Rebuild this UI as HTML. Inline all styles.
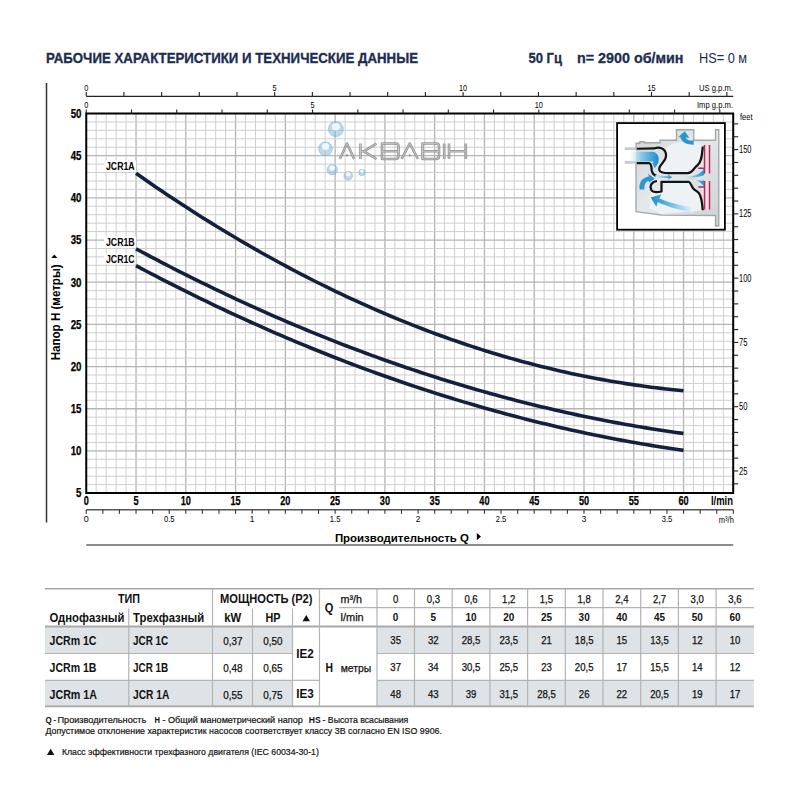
<!DOCTYPE html>
<html><head><meta charset="utf-8"><style>
html,body{margin:0;padding:0;background:#fff;}
body{width:800px;height:800px;overflow:hidden;position:relative;font-family:"Liberation Sans",sans-serif;}
svg text{font-family:"Liberation Sans",sans-serif;}
</style></head><body>
<svg width="800" height="800" viewBox="0 0 800 800" style="position:absolute;left:0;top:0">
<text x="46.00" y="62.60" font-size="15.3" font-weight="bold" fill="#1c2d50" text-anchor="start" textLength="372" lengthAdjust="spacingAndGlyphs" stroke="#1c2d50" stroke-width="0.35">РАБОЧИЕ ХАРАКТЕРИСТИКИ И ТЕХНИЧЕСКИЕ ДАННЫЕ</text>
<text x="528.50" y="62.60" font-size="15" font-weight="bold" fill="#1c2d50" text-anchor="start" textLength="33.5" lengthAdjust="spacingAndGlyphs" stroke="#1c2d50" stroke-width="0.3">50 Гц</text>
<text x="577.00" y="62.60" font-size="15" font-weight="bold" fill="#1c2d50" text-anchor="start" textLength="106.5" lengthAdjust="spacingAndGlyphs" stroke="#1c2d50" stroke-width="0.3">n= 2900 об/мин</text>
<text x="699.00" y="62.60" font-size="15" fill="#1c2d50" text-anchor="start" textLength="48" lengthAdjust="spacingAndGlyphs" >HS= 0 м</text>
<line x1="46.5" y1="83" x2="46.5" y2="522.5" stroke="#333" stroke-width="1.5"/>
<line x1="96.20" y1="113.5" x2="96.20" y2="493.0" stroke="#cfcfcf" stroke-width="1"/><line x1="106.16" y1="113.5" x2="106.16" y2="493.0" stroke="#cfcfcf" stroke-width="1"/><line x1="116.12" y1="113.5" x2="116.12" y2="493.0" stroke="#cfcfcf" stroke-width="1"/><line x1="126.07" y1="113.5" x2="126.07" y2="493.0" stroke="#cfcfcf" stroke-width="1"/><line x1="136.03" y1="113.5" x2="136.03" y2="493.0" stroke="#b4b4b4" stroke-width="1.3"/><line x1="145.98" y1="113.5" x2="145.98" y2="493.0" stroke="#cfcfcf" stroke-width="1"/><line x1="155.94" y1="113.5" x2="155.94" y2="493.0" stroke="#cfcfcf" stroke-width="1"/><line x1="165.89" y1="113.5" x2="165.89" y2="493.0" stroke="#cfcfcf" stroke-width="1"/><line x1="175.84" y1="113.5" x2="175.84" y2="493.0" stroke="#cfcfcf" stroke-width="1"/><line x1="185.80" y1="113.5" x2="185.80" y2="493.0" stroke="#b4b4b4" stroke-width="1.3"/><line x1="195.75" y1="113.5" x2="195.75" y2="493.0" stroke="#cfcfcf" stroke-width="1"/><line x1="205.71" y1="113.5" x2="205.71" y2="493.0" stroke="#cfcfcf" stroke-width="1"/><line x1="215.66" y1="113.5" x2="215.66" y2="493.0" stroke="#cfcfcf" stroke-width="1"/><line x1="225.62" y1="113.5" x2="225.62" y2="493.0" stroke="#cfcfcf" stroke-width="1"/><line x1="235.57" y1="113.5" x2="235.57" y2="493.0" stroke="#b4b4b4" stroke-width="1.3"/><line x1="245.53" y1="113.5" x2="245.53" y2="493.0" stroke="#cfcfcf" stroke-width="1"/><line x1="255.49" y1="113.5" x2="255.49" y2="493.0" stroke="#cfcfcf" stroke-width="1"/><line x1="265.44" y1="113.5" x2="265.44" y2="493.0" stroke="#cfcfcf" stroke-width="1"/><line x1="275.39" y1="113.5" x2="275.39" y2="493.0" stroke="#cfcfcf" stroke-width="1"/><line x1="285.35" y1="113.5" x2="285.35" y2="493.0" stroke="#b4b4b4" stroke-width="1.3"/><line x1="295.31" y1="113.5" x2="295.31" y2="493.0" stroke="#cfcfcf" stroke-width="1"/><line x1="305.26" y1="113.5" x2="305.26" y2="493.0" stroke="#cfcfcf" stroke-width="1"/><line x1="315.22" y1="113.5" x2="315.22" y2="493.0" stroke="#cfcfcf" stroke-width="1"/><line x1="325.17" y1="113.5" x2="325.17" y2="493.0" stroke="#cfcfcf" stroke-width="1"/><line x1="335.12" y1="113.5" x2="335.12" y2="493.0" stroke="#b4b4b4" stroke-width="1.3"/><line x1="345.08" y1="113.5" x2="345.08" y2="493.0" stroke="#cfcfcf" stroke-width="1"/><line x1="355.04" y1="113.5" x2="355.04" y2="493.0" stroke="#cfcfcf" stroke-width="1"/><line x1="364.99" y1="113.5" x2="364.99" y2="493.0" stroke="#cfcfcf" stroke-width="1"/><line x1="374.94" y1="113.5" x2="374.94" y2="493.0" stroke="#cfcfcf" stroke-width="1"/><line x1="384.90" y1="113.5" x2="384.90" y2="493.0" stroke="#b4b4b4" stroke-width="1.3"/><line x1="394.86" y1="113.5" x2="394.86" y2="493.0" stroke="#cfcfcf" stroke-width="1"/><line x1="404.81" y1="113.5" x2="404.81" y2="493.0" stroke="#cfcfcf" stroke-width="1"/><line x1="414.76" y1="113.5" x2="414.76" y2="493.0" stroke="#cfcfcf" stroke-width="1"/><line x1="424.72" y1="113.5" x2="424.72" y2="493.0" stroke="#cfcfcf" stroke-width="1"/><line x1="434.68" y1="113.5" x2="434.68" y2="493.0" stroke="#b4b4b4" stroke-width="1.3"/><line x1="444.63" y1="113.5" x2="444.63" y2="493.0" stroke="#cfcfcf" stroke-width="1"/><line x1="454.58" y1="113.5" x2="454.58" y2="493.0" stroke="#cfcfcf" stroke-width="1"/><line x1="464.54" y1="113.5" x2="464.54" y2="493.0" stroke="#cfcfcf" stroke-width="1"/><line x1="474.50" y1="113.5" x2="474.50" y2="493.0" stroke="#cfcfcf" stroke-width="1"/><line x1="484.45" y1="113.5" x2="484.45" y2="493.0" stroke="#b4b4b4" stroke-width="1.3"/><line x1="494.41" y1="113.5" x2="494.41" y2="493.0" stroke="#cfcfcf" stroke-width="1"/><line x1="504.36" y1="113.5" x2="504.36" y2="493.0" stroke="#cfcfcf" stroke-width="1"/><line x1="514.32" y1="113.5" x2="514.32" y2="493.0" stroke="#cfcfcf" stroke-width="1"/><line x1="524.27" y1="113.5" x2="524.27" y2="493.0" stroke="#cfcfcf" stroke-width="1"/><line x1="534.23" y1="113.5" x2="534.23" y2="493.0" stroke="#b4b4b4" stroke-width="1.3"/><line x1="544.18" y1="113.5" x2="544.18" y2="493.0" stroke="#cfcfcf" stroke-width="1"/><line x1="554.13" y1="113.5" x2="554.13" y2="493.0" stroke="#cfcfcf" stroke-width="1"/><line x1="564.09" y1="113.5" x2="564.09" y2="493.0" stroke="#cfcfcf" stroke-width="1"/><line x1="574.05" y1="113.5" x2="574.05" y2="493.0" stroke="#cfcfcf" stroke-width="1"/><line x1="584.00" y1="113.5" x2="584.00" y2="493.0" stroke="#b4b4b4" stroke-width="1.3"/><line x1="593.95" y1="113.5" x2="593.95" y2="493.0" stroke="#cfcfcf" stroke-width="1"/><line x1="603.91" y1="113.5" x2="603.91" y2="493.0" stroke="#cfcfcf" stroke-width="1"/><line x1="613.87" y1="113.5" x2="613.87" y2="493.0" stroke="#cfcfcf" stroke-width="1"/><line x1="623.82" y1="113.5" x2="623.82" y2="493.0" stroke="#cfcfcf" stroke-width="1"/><line x1="633.77" y1="113.5" x2="633.77" y2="493.0" stroke="#b4b4b4" stroke-width="1.3"/><line x1="643.73" y1="113.5" x2="643.73" y2="493.0" stroke="#cfcfcf" stroke-width="1"/><line x1="653.69" y1="113.5" x2="653.69" y2="493.0" stroke="#cfcfcf" stroke-width="1"/><line x1="663.64" y1="113.5" x2="663.64" y2="493.0" stroke="#cfcfcf" stroke-width="1"/><line x1="673.60" y1="113.5" x2="673.60" y2="493.0" stroke="#cfcfcf" stroke-width="1"/><line x1="683.55" y1="113.5" x2="683.55" y2="493.0" stroke="#b4b4b4" stroke-width="1.3"/><line x1="693.50" y1="113.5" x2="693.50" y2="493.0" stroke="#cfcfcf" stroke-width="1"/><line x1="703.46" y1="113.5" x2="703.46" y2="493.0" stroke="#cfcfcf" stroke-width="1"/><line x1="713.41" y1="113.5" x2="713.41" y2="493.0" stroke="#cfcfcf" stroke-width="1"/><line x1="723.37" y1="113.5" x2="723.37" y2="493.0" stroke="#cfcfcf" stroke-width="1"/><line x1="86.25" y1="484.64" x2="733.2" y2="484.64" stroke="#cfcfcf" stroke-width="1"/><line x1="86.25" y1="476.21" x2="733.2" y2="476.21" stroke="#cfcfcf" stroke-width="1"/><line x1="86.25" y1="467.77" x2="733.2" y2="467.77" stroke="#cfcfcf" stroke-width="1"/><line x1="86.25" y1="459.34" x2="733.2" y2="459.34" stroke="#cfcfcf" stroke-width="1"/><line x1="86.25" y1="450.90" x2="733.2" y2="450.90" stroke="#b4b4b4" stroke-width="1.3"/><line x1="86.25" y1="442.47" x2="733.2" y2="442.47" stroke="#cfcfcf" stroke-width="1"/><line x1="86.25" y1="434.03" x2="733.2" y2="434.03" stroke="#cfcfcf" stroke-width="1"/><line x1="86.25" y1="425.60" x2="733.2" y2="425.60" stroke="#cfcfcf" stroke-width="1"/><line x1="86.25" y1="417.16" x2="733.2" y2="417.16" stroke="#cfcfcf" stroke-width="1"/><line x1="86.25" y1="408.73" x2="733.2" y2="408.73" stroke="#b4b4b4" stroke-width="1.3"/><line x1="86.25" y1="400.29" x2="733.2" y2="400.29" stroke="#cfcfcf" stroke-width="1"/><line x1="86.25" y1="391.86" x2="733.2" y2="391.86" stroke="#cfcfcf" stroke-width="1"/><line x1="86.25" y1="383.42" x2="733.2" y2="383.42" stroke="#cfcfcf" stroke-width="1"/><line x1="86.25" y1="374.99" x2="733.2" y2="374.99" stroke="#cfcfcf" stroke-width="1"/><line x1="86.25" y1="366.55" x2="733.2" y2="366.55" stroke="#b4b4b4" stroke-width="1.3"/><line x1="86.25" y1="358.12" x2="733.2" y2="358.12" stroke="#cfcfcf" stroke-width="1"/><line x1="86.25" y1="349.68" x2="733.2" y2="349.68" stroke="#cfcfcf" stroke-width="1"/><line x1="86.25" y1="341.25" x2="733.2" y2="341.25" stroke="#cfcfcf" stroke-width="1"/><line x1="86.25" y1="332.81" x2="733.2" y2="332.81" stroke="#cfcfcf" stroke-width="1"/><line x1="86.25" y1="324.38" x2="733.2" y2="324.38" stroke="#b4b4b4" stroke-width="1.3"/><line x1="86.25" y1="315.94" x2="733.2" y2="315.94" stroke="#cfcfcf" stroke-width="1"/><line x1="86.25" y1="307.50" x2="733.2" y2="307.50" stroke="#cfcfcf" stroke-width="1"/><line x1="86.25" y1="299.07" x2="733.2" y2="299.07" stroke="#cfcfcf" stroke-width="1"/><line x1="86.25" y1="290.63" x2="733.2" y2="290.63" stroke="#cfcfcf" stroke-width="1"/><line x1="86.25" y1="282.20" x2="733.2" y2="282.20" stroke="#b4b4b4" stroke-width="1.3"/><line x1="86.25" y1="273.76" x2="733.2" y2="273.76" stroke="#cfcfcf" stroke-width="1"/><line x1="86.25" y1="265.33" x2="733.2" y2="265.33" stroke="#cfcfcf" stroke-width="1"/><line x1="86.25" y1="256.89" x2="733.2" y2="256.89" stroke="#cfcfcf" stroke-width="1"/><line x1="86.25" y1="248.46" x2="733.2" y2="248.46" stroke="#cfcfcf" stroke-width="1"/><line x1="86.25" y1="240.03" x2="733.2" y2="240.03" stroke="#b4b4b4" stroke-width="1.3"/><line x1="86.25" y1="231.59" x2="733.2" y2="231.59" stroke="#cfcfcf" stroke-width="1"/><line x1="86.25" y1="223.16" x2="733.2" y2="223.16" stroke="#cfcfcf" stroke-width="1"/><line x1="86.25" y1="214.72" x2="733.2" y2="214.72" stroke="#cfcfcf" stroke-width="1"/><line x1="86.25" y1="206.29" x2="733.2" y2="206.29" stroke="#cfcfcf" stroke-width="1"/><line x1="86.25" y1="197.85" x2="733.2" y2="197.85" stroke="#b4b4b4" stroke-width="1.3"/><line x1="86.25" y1="189.42" x2="733.2" y2="189.42" stroke="#cfcfcf" stroke-width="1"/><line x1="86.25" y1="180.98" x2="733.2" y2="180.98" stroke="#cfcfcf" stroke-width="1"/><line x1="86.25" y1="172.55" x2="733.2" y2="172.55" stroke="#cfcfcf" stroke-width="1"/><line x1="86.25" y1="164.11" x2="733.2" y2="164.11" stroke="#cfcfcf" stroke-width="1"/><line x1="86.25" y1="155.68" x2="733.2" y2="155.68" stroke="#b4b4b4" stroke-width="1.3"/><line x1="86.25" y1="147.24" x2="733.2" y2="147.24" stroke="#cfcfcf" stroke-width="1"/><line x1="86.25" y1="138.81" x2="733.2" y2="138.81" stroke="#cfcfcf" stroke-width="1"/><line x1="86.25" y1="130.37" x2="733.2" y2="130.37" stroke="#cfcfcf" stroke-width="1"/><line x1="86.25" y1="121.94" x2="733.2" y2="121.94" stroke="#cfcfcf" stroke-width="1"/>
<rect x="86.25" y="113.5" width="646.95" height="379.5" fill="none" stroke="#000" stroke-width="2"/>
<text x="81.50" y="497.38" font-size="12" font-weight="bold" fill="#000" text-anchor="end" textLength="5.4" lengthAdjust="spacingAndGlyphs" stroke="#000" stroke-width="0.25">5</text>
<text x="81.50" y="455.20" font-size="12" font-weight="bold" fill="#000" text-anchor="end" textLength="10.8" lengthAdjust="spacingAndGlyphs" stroke="#000" stroke-width="0.25">10</text>
<text x="81.50" y="413.03" font-size="12" font-weight="bold" fill="#000" text-anchor="end" textLength="10.8" lengthAdjust="spacingAndGlyphs" stroke="#000" stroke-width="0.25">15</text>
<text x="81.50" y="370.85" font-size="12" font-weight="bold" fill="#000" text-anchor="end" textLength="10.8" lengthAdjust="spacingAndGlyphs" stroke="#000" stroke-width="0.25">20</text>
<text x="81.50" y="328.68" font-size="12" font-weight="bold" fill="#000" text-anchor="end" textLength="10.8" lengthAdjust="spacingAndGlyphs" stroke="#000" stroke-width="0.25">25</text>
<text x="81.50" y="286.50" font-size="12" font-weight="bold" fill="#000" text-anchor="end" textLength="10.8" lengthAdjust="spacingAndGlyphs" stroke="#000" stroke-width="0.25">30</text>
<text x="81.50" y="244.33" font-size="12" font-weight="bold" fill="#000" text-anchor="end" textLength="10.8" lengthAdjust="spacingAndGlyphs" stroke="#000" stroke-width="0.25">35</text>
<text x="81.50" y="202.15" font-size="12" font-weight="bold" fill="#000" text-anchor="end" textLength="10.8" lengthAdjust="spacingAndGlyphs" stroke="#000" stroke-width="0.25">40</text>
<text x="81.50" y="159.98" font-size="12" font-weight="bold" fill="#000" text-anchor="end" textLength="10.8" lengthAdjust="spacingAndGlyphs" stroke="#000" stroke-width="0.25">45</text>
<text x="81.50" y="117.80" font-size="12" font-weight="bold" fill="#000" text-anchor="end" textLength="10.8" lengthAdjust="spacingAndGlyphs" stroke="#000" stroke-width="0.25">50</text>
<line x1="86.25" y1="96.3" x2="733.2" y2="96.3" stroke="#222" stroke-width="1.3"/>
<text x="86.25" y="90.70" font-size="9.7" fill="#000" text-anchor="middle" textLength="4.1" lengthAdjust="spacingAndGlyphs" >0</text>
<text x="274.67" y="90.70" font-size="9.7" fill="#000" text-anchor="middle" textLength="4.1" lengthAdjust="spacingAndGlyphs" >5</text>
<text x="463.09" y="90.70" font-size="9.7" fill="#000" text-anchor="middle" textLength="8.2" lengthAdjust="spacingAndGlyphs" >10</text>
<text x="651.51" y="90.70" font-size="9.7" fill="#000" text-anchor="middle" textLength="8.2" lengthAdjust="spacingAndGlyphs" >15</text>
<line x1="86.25" y1="92" x2="86.25" y2="96.3" stroke="#222" stroke-width="1.1"/><line x1="123.93" y1="92" x2="123.93" y2="96.3" stroke="#222" stroke-width="1.1"/><line x1="161.62" y1="92" x2="161.62" y2="96.3" stroke="#222" stroke-width="1.1"/><line x1="199.30" y1="92" x2="199.30" y2="96.3" stroke="#222" stroke-width="1.1"/><line x1="236.99" y1="92" x2="236.99" y2="96.3" stroke="#222" stroke-width="1.1"/><line x1="274.67" y1="92" x2="274.67" y2="96.3" stroke="#222" stroke-width="1.1"/><line x1="312.35" y1="92" x2="312.35" y2="96.3" stroke="#222" stroke-width="1.1"/><line x1="350.04" y1="92" x2="350.04" y2="96.3" stroke="#222" stroke-width="1.1"/><line x1="387.72" y1="92" x2="387.72" y2="96.3" stroke="#222" stroke-width="1.1"/><line x1="425.40" y1="92" x2="425.40" y2="96.3" stroke="#222" stroke-width="1.1"/><line x1="463.09" y1="92" x2="463.09" y2="96.3" stroke="#222" stroke-width="1.1"/><line x1="500.77" y1="92" x2="500.77" y2="96.3" stroke="#222" stroke-width="1.1"/><line x1="538.46" y1="92" x2="538.46" y2="96.3" stroke="#222" stroke-width="1.1"/><line x1="576.14" y1="92" x2="576.14" y2="96.3" stroke="#222" stroke-width="1.1"/><line x1="613.82" y1="92" x2="613.82" y2="96.3" stroke="#222" stroke-width="1.1"/><line x1="651.51" y1="92" x2="651.51" y2="96.3" stroke="#222" stroke-width="1.1"/><line x1="689.19" y1="92" x2="689.19" y2="96.3" stroke="#222" stroke-width="1.1"/><line x1="726.87" y1="92" x2="726.87" y2="96.3" stroke="#222" stroke-width="1.1"/>
<text x="733.00" y="90.50" font-size="8.5" fill="#000" text-anchor="end" textLength="34" lengthAdjust="spacingAndGlyphs" >US g.p.m.</text>
<text x="86.25" y="107.60" font-size="9.7" fill="#000" text-anchor="middle" textLength="4.1" lengthAdjust="spacingAndGlyphs" >0</text>
<text x="312.53" y="107.60" font-size="9.7" fill="#000" text-anchor="middle" textLength="4.1" lengthAdjust="spacingAndGlyphs" >5</text>
<text x="538.81" y="107.60" font-size="9.7" fill="#000" text-anchor="middle" textLength="8.2" lengthAdjust="spacingAndGlyphs" >10</text>
<line x1="86.25" y1="109.5" x2="86.25" y2="113.5" stroke="#222" stroke-width="1.1"/><line x1="131.51" y1="109.5" x2="131.51" y2="113.5" stroke="#222" stroke-width="1.1"/><line x1="176.76" y1="109.5" x2="176.76" y2="113.5" stroke="#222" stroke-width="1.1"/><line x1="222.02" y1="109.5" x2="222.02" y2="113.5" stroke="#222" stroke-width="1.1"/><line x1="267.28" y1="109.5" x2="267.28" y2="113.5" stroke="#222" stroke-width="1.1"/><line x1="312.53" y1="109.5" x2="312.53" y2="113.5" stroke="#222" stroke-width="1.1"/><line x1="357.79" y1="109.5" x2="357.79" y2="113.5" stroke="#222" stroke-width="1.1"/><line x1="403.04" y1="109.5" x2="403.04" y2="113.5" stroke="#222" stroke-width="1.1"/><line x1="448.30" y1="109.5" x2="448.30" y2="113.5" stroke="#222" stroke-width="1.1"/><line x1="493.56" y1="109.5" x2="493.56" y2="113.5" stroke="#222" stroke-width="1.1"/><line x1="538.81" y1="109.5" x2="538.81" y2="113.5" stroke="#222" stroke-width="1.1"/><line x1="584.07" y1="109.5" x2="584.07" y2="113.5" stroke="#222" stroke-width="1.1"/><line x1="629.33" y1="109.5" x2="629.33" y2="113.5" stroke="#222" stroke-width="1.1"/><line x1="674.58" y1="109.5" x2="674.58" y2="113.5" stroke="#222" stroke-width="1.1"/><line x1="719.84" y1="109.5" x2="719.84" y2="113.5" stroke="#222" stroke-width="1.1"/>
<text x="733.00" y="107.80" font-size="8.5" fill="#000" text-anchor="end" textLength="36" lengthAdjust="spacingAndGlyphs" >Imp g.p.m.</text>
<text x="739.00" y="474.58" font-size="10" fill="#000" text-anchor="start" textLength="8.4" lengthAdjust="spacingAndGlyphs" >25</text>
<text x="739.00" y="410.30" font-size="10" fill="#000" text-anchor="start" textLength="8.4" lengthAdjust="spacingAndGlyphs" >50</text>
<text x="739.00" y="346.03" font-size="10" fill="#000" text-anchor="start" textLength="8.4" lengthAdjust="spacingAndGlyphs" >75</text>
<text x="739.00" y="281.75" font-size="10" fill="#000" text-anchor="start" textLength="12.5" lengthAdjust="spacingAndGlyphs" >100</text>
<text x="739.00" y="217.48" font-size="10" fill="#000" text-anchor="start" textLength="12.5" lengthAdjust="spacingAndGlyphs" >125</text>
<text x="739.00" y="153.20" font-size="10" fill="#000" text-anchor="start" textLength="12.5" lengthAdjust="spacingAndGlyphs" >150</text>
<line x1="733.2" y1="483.83" x2="738.2" y2="483.83" stroke="#222" stroke-width="1.1"/><line x1="733.2" y1="470.98" x2="738.2" y2="470.98" stroke="#222" stroke-width="1.1"/><line x1="733.2" y1="458.12" x2="738.2" y2="458.12" stroke="#222" stroke-width="1.1"/><line x1="733.2" y1="445.27" x2="738.2" y2="445.27" stroke="#222" stroke-width="1.1"/><line x1="733.2" y1="432.41" x2="738.2" y2="432.41" stroke="#222" stroke-width="1.1"/><line x1="733.2" y1="419.56" x2="738.2" y2="419.56" stroke="#222" stroke-width="1.1"/><line x1="733.2" y1="406.70" x2="738.2" y2="406.70" stroke="#222" stroke-width="1.1"/><line x1="733.2" y1="393.85" x2="738.2" y2="393.85" stroke="#222" stroke-width="1.1"/><line x1="733.2" y1="380.99" x2="738.2" y2="380.99" stroke="#222" stroke-width="1.1"/><line x1="733.2" y1="368.14" x2="738.2" y2="368.14" stroke="#222" stroke-width="1.1"/><line x1="733.2" y1="355.28" x2="738.2" y2="355.28" stroke="#222" stroke-width="1.1"/><line x1="733.2" y1="342.43" x2="738.2" y2="342.43" stroke="#222" stroke-width="1.1"/><line x1="733.2" y1="329.57" x2="738.2" y2="329.57" stroke="#222" stroke-width="1.1"/><line x1="733.2" y1="316.72" x2="738.2" y2="316.72" stroke="#222" stroke-width="1.1"/><line x1="733.2" y1="303.86" x2="738.2" y2="303.86" stroke="#222" stroke-width="1.1"/><line x1="733.2" y1="291.01" x2="738.2" y2="291.01" stroke="#222" stroke-width="1.1"/><line x1="733.2" y1="278.15" x2="738.2" y2="278.15" stroke="#222" stroke-width="1.1"/><line x1="733.2" y1="265.30" x2="738.2" y2="265.30" stroke="#222" stroke-width="1.1"/><line x1="733.2" y1="252.44" x2="738.2" y2="252.44" stroke="#222" stroke-width="1.1"/><line x1="733.2" y1="239.59" x2="738.2" y2="239.59" stroke="#222" stroke-width="1.1"/><line x1="733.2" y1="226.73" x2="738.2" y2="226.73" stroke="#222" stroke-width="1.1"/><line x1="733.2" y1="213.88" x2="738.2" y2="213.88" stroke="#222" stroke-width="1.1"/><line x1="733.2" y1="201.02" x2="738.2" y2="201.02" stroke="#222" stroke-width="1.1"/><line x1="733.2" y1="188.17" x2="738.2" y2="188.17" stroke="#222" stroke-width="1.1"/><line x1="733.2" y1="175.31" x2="738.2" y2="175.31" stroke="#222" stroke-width="1.1"/><line x1="733.2" y1="162.46" x2="738.2" y2="162.46" stroke="#222" stroke-width="1.1"/><line x1="733.2" y1="149.60" x2="738.2" y2="149.60" stroke="#222" stroke-width="1.1"/><line x1="733.2" y1="136.75" x2="738.2" y2="136.75" stroke="#222" stroke-width="1.1"/><line x1="733.2" y1="123.89" x2="738.2" y2="123.89" stroke="#222" stroke-width="1.1"/>
<text x="740.00" y="120.00" font-size="8.5" fill="#000" text-anchor="start" textLength="12.5" lengthAdjust="spacingAndGlyphs" >feet</text>
<text x="86.25" y="505.40" font-size="12.5" font-weight="bold" fill="#000" text-anchor="middle" textLength="5.1" lengthAdjust="spacingAndGlyphs" stroke="#000" stroke-width="0.25">0</text>
<text x="136.03" y="505.40" font-size="12.5" font-weight="bold" fill="#000" text-anchor="middle" textLength="5.1" lengthAdjust="spacingAndGlyphs" stroke="#000" stroke-width="0.25">5</text>
<text x="185.80" y="505.40" font-size="12.5" font-weight="bold" fill="#000" text-anchor="middle" textLength="10.2" lengthAdjust="spacingAndGlyphs" stroke="#000" stroke-width="0.25">10</text>
<text x="235.57" y="505.40" font-size="12.5" font-weight="bold" fill="#000" text-anchor="middle" textLength="10.2" lengthAdjust="spacingAndGlyphs" stroke="#000" stroke-width="0.25">15</text>
<text x="285.35" y="505.40" font-size="12.5" font-weight="bold" fill="#000" text-anchor="middle" textLength="10.2" lengthAdjust="spacingAndGlyphs" stroke="#000" stroke-width="0.25">20</text>
<text x="335.12" y="505.40" font-size="12.5" font-weight="bold" fill="#000" text-anchor="middle" textLength="10.2" lengthAdjust="spacingAndGlyphs" stroke="#000" stroke-width="0.25">25</text>
<text x="384.90" y="505.40" font-size="12.5" font-weight="bold" fill="#000" text-anchor="middle" textLength="10.2" lengthAdjust="spacingAndGlyphs" stroke="#000" stroke-width="0.25">30</text>
<text x="434.68" y="505.40" font-size="12.5" font-weight="bold" fill="#000" text-anchor="middle" textLength="10.2" lengthAdjust="spacingAndGlyphs" stroke="#000" stroke-width="0.25">35</text>
<text x="484.45" y="505.40" font-size="12.5" font-weight="bold" fill="#000" text-anchor="middle" textLength="10.2" lengthAdjust="spacingAndGlyphs" stroke="#000" stroke-width="0.25">40</text>
<text x="534.23" y="505.40" font-size="12.5" font-weight="bold" fill="#000" text-anchor="middle" textLength="10.2" lengthAdjust="spacingAndGlyphs" stroke="#000" stroke-width="0.25">45</text>
<text x="584.00" y="505.40" font-size="12.5" font-weight="bold" fill="#000" text-anchor="middle" textLength="10.2" lengthAdjust="spacingAndGlyphs" stroke="#000" stroke-width="0.25">50</text>
<text x="633.77" y="505.40" font-size="12.5" font-weight="bold" fill="#000" text-anchor="middle" textLength="10.2" lengthAdjust="spacingAndGlyphs" stroke="#000" stroke-width="0.25">55</text>
<text x="683.55" y="505.40" font-size="12.5" font-weight="bold" fill="#000" text-anchor="middle" textLength="10.2" lengthAdjust="spacingAndGlyphs" stroke="#000" stroke-width="0.25">60</text>
<text x="733.00" y="505.40" font-size="12.5" font-weight="bold" fill="#000" text-anchor="end" textLength="22" lengthAdjust="spacingAndGlyphs" >l/min</text>
<line x1="86.25" y1="509.8" x2="733.2" y2="509.8" stroke="#555" stroke-width="1.5"/>
<text x="86.25" y="521.80" font-size="9" fill="#000" text-anchor="middle" textLength="5" lengthAdjust="spacingAndGlyphs" >0</text>
<text x="169.21" y="521.80" font-size="9" fill="#000" text-anchor="middle" textLength="10.6" lengthAdjust="spacingAndGlyphs" >0.5</text>
<text x="252.17" y="521.80" font-size="9" fill="#000" text-anchor="middle" textLength="4.6" lengthAdjust="spacingAndGlyphs" >1</text>
<text x="335.12" y="521.80" font-size="9" fill="#000" text-anchor="middle" textLength="10.6" lengthAdjust="spacingAndGlyphs" >1.5</text>
<text x="418.08" y="521.80" font-size="9" fill="#000" text-anchor="middle" textLength="4.6" lengthAdjust="spacingAndGlyphs" >2</text>
<text x="501.04" y="521.80" font-size="9" fill="#000" text-anchor="middle" textLength="10.6" lengthAdjust="spacingAndGlyphs" >2.5</text>
<text x="584.00" y="521.80" font-size="9" fill="#000" text-anchor="middle" textLength="4.6" lengthAdjust="spacingAndGlyphs" >3</text>
<text x="666.96" y="521.80" font-size="9" fill="#000" text-anchor="middle" textLength="10.6" lengthAdjust="spacingAndGlyphs" >3.5</text>
<line x1="86.25" y1="509.8" x2="86.25" y2="513.8" stroke="#333" stroke-width="1.1"/><line x1="102.84" y1="509.8" x2="102.84" y2="513.8" stroke="#333" stroke-width="1.1"/><line x1="119.43" y1="509.8" x2="119.43" y2="513.8" stroke="#333" stroke-width="1.1"/><line x1="136.03" y1="509.8" x2="136.03" y2="513.8" stroke="#333" stroke-width="1.1"/><line x1="152.62" y1="509.8" x2="152.62" y2="513.8" stroke="#333" stroke-width="1.1"/><line x1="169.21" y1="509.8" x2="169.21" y2="513.8" stroke="#333" stroke-width="1.1"/><line x1="185.80" y1="509.8" x2="185.80" y2="513.8" stroke="#333" stroke-width="1.1"/><line x1="202.39" y1="509.8" x2="202.39" y2="513.8" stroke="#333" stroke-width="1.1"/><line x1="218.98" y1="509.8" x2="218.98" y2="513.8" stroke="#333" stroke-width="1.1"/><line x1="235.57" y1="509.8" x2="235.57" y2="513.8" stroke="#333" stroke-width="1.1"/><line x1="252.17" y1="509.8" x2="252.17" y2="513.8" stroke="#333" stroke-width="1.1"/><line x1="268.76" y1="509.8" x2="268.76" y2="513.8" stroke="#333" stroke-width="1.1"/><line x1="285.35" y1="509.8" x2="285.35" y2="513.8" stroke="#333" stroke-width="1.1"/><line x1="301.94" y1="509.8" x2="301.94" y2="513.8" stroke="#333" stroke-width="1.1"/><line x1="318.53" y1="509.8" x2="318.53" y2="513.8" stroke="#333" stroke-width="1.1"/><line x1="335.12" y1="509.8" x2="335.12" y2="513.8" stroke="#333" stroke-width="1.1"/><line x1="351.72" y1="509.8" x2="351.72" y2="513.8" stroke="#333" stroke-width="1.1"/><line x1="368.31" y1="509.8" x2="368.31" y2="513.8" stroke="#333" stroke-width="1.1"/><line x1="384.90" y1="509.8" x2="384.90" y2="513.8" stroke="#333" stroke-width="1.1"/><line x1="401.49" y1="509.8" x2="401.49" y2="513.8" stroke="#333" stroke-width="1.1"/><line x1="418.08" y1="509.8" x2="418.08" y2="513.8" stroke="#333" stroke-width="1.1"/><line x1="434.68" y1="509.8" x2="434.68" y2="513.8" stroke="#333" stroke-width="1.1"/><line x1="451.27" y1="509.8" x2="451.27" y2="513.8" stroke="#333" stroke-width="1.1"/><line x1="467.86" y1="509.8" x2="467.86" y2="513.8" stroke="#333" stroke-width="1.1"/><line x1="484.45" y1="509.8" x2="484.45" y2="513.8" stroke="#333" stroke-width="1.1"/><line x1="501.04" y1="509.8" x2="501.04" y2="513.8" stroke="#333" stroke-width="1.1"/><line x1="517.63" y1="509.8" x2="517.63" y2="513.8" stroke="#333" stroke-width="1.1"/><line x1="534.23" y1="509.8" x2="534.23" y2="513.8" stroke="#333" stroke-width="1.1"/><line x1="550.82" y1="509.8" x2="550.82" y2="513.8" stroke="#333" stroke-width="1.1"/><line x1="567.41" y1="509.8" x2="567.41" y2="513.8" stroke="#333" stroke-width="1.1"/><line x1="584.00" y1="509.8" x2="584.00" y2="513.8" stroke="#333" stroke-width="1.1"/><line x1="600.59" y1="509.8" x2="600.59" y2="513.8" stroke="#333" stroke-width="1.1"/><line x1="617.18" y1="509.8" x2="617.18" y2="513.8" stroke="#333" stroke-width="1.1"/><line x1="633.77" y1="509.8" x2="633.77" y2="513.8" stroke="#333" stroke-width="1.1"/><line x1="650.37" y1="509.8" x2="650.37" y2="513.8" stroke="#333" stroke-width="1.1"/><line x1="666.96" y1="509.8" x2="666.96" y2="513.8" stroke="#333" stroke-width="1.1"/><line x1="683.55" y1="509.8" x2="683.55" y2="513.8" stroke="#333" stroke-width="1.1"/><line x1="700.14" y1="509.8" x2="700.14" y2="513.8" stroke="#333" stroke-width="1.1"/><line x1="716.73" y1="509.8" x2="716.73" y2="513.8" stroke="#333" stroke-width="1.1"/><line x1="733.33" y1="509.8" x2="733.33" y2="513.8" stroke="#333" stroke-width="1.1"/>
<text x="733.80" y="523.00" font-size="9.5" fill="#000" text-anchor="end" textLength="15" lengthAdjust="spacingAndGlyphs" >m³/h</text>
<line x1="86.25" y1="545" x2="733.2" y2="545" stroke="#666" stroke-width="1.6"/>
<text x="334.90" y="541.60" font-size="11.8" font-weight="bold" fill="#000" text-anchor="start" textLength="134" lengthAdjust="spacingAndGlyphs" >Производительность Q</text>
<path d="M476.8 533 L481 536.6 L476.8 540.2 Z" fill="#000"/>
<g transform="translate(60.3,360.3) rotate(-90)">
<text x="0.00" y="0.00" font-size="12.6" font-weight="bold" fill="#000" text-anchor="start" textLength="96" lengthAdjust="spacingAndGlyphs" >Напор H (метры)</text>
<path d="M102.3 -9 L105.8 -6 L102.3 -3 Z" fill="#000"/>
</g>
<path d="M136.03,173.31 L141.03,176.81 L146.03,180.28 L151.03,183.73 L156.03,187.15 L161.03,190.54 L166.03,193.90 L171.03,197.23 L176.03,200.54 L181.03,203.82 L186.03,207.07 L191.03,210.29 L196.03,213.48 L201.03,216.65 L206.03,219.79 L211.03,222.90 L216.03,225.98 L221.03,229.03 L226.03,232.06 L231.03,235.06 L236.03,238.03 L241.03,240.97 L246.03,243.89 L251.03,246.77 L256.02,249.63 L261.02,252.46 L266.02,255.27 L271.02,258.04 L276.02,260.79 L281.02,263.51 L286.02,266.20 L291.02,268.86 L296.02,271.50 L301.02,274.11 L306.02,276.68 L311.02,279.24 L316.02,281.76 L321.02,284.26 L326.02,286.72 L331.02,289.16 L336.02,291.57 L341.02,293.96 L346.02,296.31 L351.02,298.64 L356.02,300.94 L361.02,303.21 L366.02,305.46 L371.02,307.67 L376.02,309.86 L381.02,312.02 L386.02,314.15 L391.02,316.26 L396.02,318.33 L401.02,320.38 L406.02,322.40 L411.02,324.39 L416.02,326.36 L421.02,328.30 L426.02,330.20 L431.02,332.09 L436.02,333.94 L441.02,335.76 L446.02,337.56 L451.02,339.33 L456.02,341.07 L461.02,342.78 L466.02,344.47 L471.02,346.12 L476.02,347.75 L481.02,349.35 L486.02,350.93 L491.02,352.47 L496.02,353.99 L501.02,355.48 L506.02,356.94 L511.02,358.37 L516.02,359.78 L521.02,361.16 L526.02,362.51 L531.02,363.83 L536.02,365.12 L541.02,366.39 L546.02,367.62 L551.02,368.83 L556.02,370.02 L561.02,371.17 L566.02,372.30 L571.02,373.39 L576.02,374.46 L581.02,375.51 L586.02,376.52 L591.02,377.51 L596.02,378.46 L601.02,379.39 L606.02,380.30 L611.02,381.17 L616.02,382.02 L621.02,382.84 L626.02,383.63 L631.02,384.39 L636.02,385.12 L641.02,385.83 L646.02,386.51 L651.02,387.16 L656.02,387.78 L661.02,388.38 L666.02,388.95 L671.02,389.48 L676.02,390.00 L681.02,390.48 L683.55,390.71" fill="none" stroke="#13213f" stroke-width="3.6" stroke-linejoin="round"/>
<path d="M136.03,248.83 L141.03,251.51 L146.03,254.18 L151.03,256.83 L156.03,259.46 L161.03,262.07 L166.03,264.66 L171.03,267.23 L176.03,269.79 L181.03,272.33 L186.03,274.84 L191.03,277.35 L196.03,279.83 L201.03,282.29 L206.03,284.74 L211.03,287.16 L216.03,289.57 L221.03,291.96 L226.03,294.33 L231.03,296.69 L236.03,299.02 L241.03,301.34 L246.03,303.64 L251.03,305.92 L256.02,308.18 L261.02,310.42 L266.02,312.65 L271.02,314.85 L276.02,317.04 L281.02,319.21 L286.02,321.36 L291.02,323.49 L296.02,325.61 L301.02,327.70 L306.02,329.78 L311.02,331.84 L316.02,333.88 L321.02,335.90 L326.02,337.90 L331.02,339.89 L336.02,341.86 L341.02,343.81 L346.02,345.74 L351.02,347.65 L356.02,349.54 L361.02,351.42 L366.02,353.27 L371.02,355.11 L376.02,356.93 L381.02,358.73 L386.02,360.51 L391.02,362.28 L396.02,364.02 L401.02,365.75 L406.02,367.46 L411.02,369.15 L416.02,370.82 L421.02,372.48 L426.02,374.11 L431.02,375.73 L436.02,377.33 L441.02,378.91 L446.02,380.47 L451.02,382.02 L456.02,383.54 L461.02,385.05 L466.02,386.54 L471.02,388.01 L476.02,389.46 L481.02,390.89 L486.02,392.31 L491.02,393.70 L496.02,395.08 L501.02,396.44 L506.02,397.78 L511.02,399.10 L516.02,400.41 L521.02,401.70 L526.02,402.96 L531.02,404.21 L536.02,405.44 L541.02,406.66 L546.02,407.85 L551.02,409.02 L556.02,410.18 L561.02,411.32 L566.02,412.44 L571.02,413.54 L576.02,414.63 L581.02,415.69 L586.02,416.74 L591.02,417.77 L596.02,418.78 L601.02,419.77 L606.02,420.74 L611.02,421.70 L616.02,422.63 L621.02,423.55 L626.02,424.45 L631.02,425.33 L636.02,426.19 L641.02,427.04 L646.02,427.86 L651.02,428.67 L656.02,429.46 L661.02,430.23 L666.02,430.98 L671.02,431.72 L676.02,432.43 L681.02,433.13 L683.55,433.48" fill="none" stroke="#13213f" stroke-width="3.6" stroke-linejoin="round"/>
<path d="M136.03,265.71 L141.03,268.37 L146.03,271.00 L151.03,273.62 L156.03,276.22 L161.03,278.80 L166.03,281.37 L171.03,283.92 L176.03,286.44 L181.03,288.96 L186.03,291.45 L191.03,293.92 L196.03,296.38 L201.03,298.82 L206.03,301.24 L211.03,303.65 L216.03,306.03 L221.03,308.40 L226.03,310.75 L231.03,313.08 L236.03,315.40 L241.03,317.70 L246.03,319.98 L251.03,322.24 L256.02,324.48 L261.02,326.71 L266.02,328.91 L271.02,331.10 L276.02,333.28 L281.02,335.43 L286.02,337.57 L291.02,339.69 L296.02,341.79 L301.02,343.87 L306.02,345.94 L311.02,347.98 L316.02,350.01 L321.02,352.03 L326.02,354.02 L331.02,356.00 L336.02,357.95 L341.02,359.89 L346.02,361.82 L351.02,363.72 L356.02,365.61 L361.02,367.48 L366.02,369.33 L371.02,371.16 L376.02,372.98 L381.02,374.78 L386.02,376.56 L391.02,378.32 L396.02,380.06 L401.02,381.79 L406.02,383.50 L411.02,385.19 L416.02,386.86 L421.02,388.52 L426.02,390.16 L431.02,391.78 L436.02,393.38 L441.02,394.96 L446.02,396.53 L451.02,398.08 L456.02,399.61 L461.02,401.12 L466.02,402.61 L471.02,404.09 L476.02,405.55 L481.02,406.99 L486.02,408.41 L491.02,409.82 L496.02,411.21 L501.02,412.58 L506.02,413.93 L511.02,415.26 L516.02,416.58 L521.02,417.88 L526.02,419.16 L531.02,420.42 L536.02,421.67 L541.02,422.90 L546.02,424.10 L551.02,425.30 L556.02,426.47 L561.02,427.63 L566.02,428.76 L571.02,429.89 L576.02,430.99 L581.02,432.07 L586.02,433.14 L591.02,434.19 L596.02,435.22 L601.02,436.23 L606.02,437.23 L611.02,438.21 L616.02,439.17 L621.02,440.11 L626.02,441.03 L631.02,441.94 L636.02,442.83 L641.02,443.70 L646.02,444.55 L651.02,445.39 L656.02,446.20 L661.02,447.00 L666.02,447.79 L671.02,448.55 L676.02,449.29 L681.02,450.02 L683.55,450.38" fill="none" stroke="#13213f" stroke-width="3.6" stroke-linejoin="round"/>
<rect x="104" y="160.5" width="32" height="11" fill="#fff"/>
<rect x="104" y="236.5" width="32" height="11" fill="#fff"/>
<rect x="104" y="253.5" width="31.5" height="10.5" fill="#fff"/>
<text x="106.00" y="170.00" font-size="11.3" font-weight="bold" fill="#000" text-anchor="start" textLength="28.6" lengthAdjust="spacingAndGlyphs" >JCR1A</text>
<text x="106.00" y="246.30" font-size="11.3" font-weight="bold" fill="#000" text-anchor="start" textLength="28.6" lengthAdjust="spacingAndGlyphs" >JCR1B</text>
<text x="106.00" y="263.10" font-size="11.3" font-weight="bold" fill="#000" text-anchor="start" textLength="28.6" lengthAdjust="spacingAndGlyphs" >JCR1C</text>
<rect x="45" y="626.5" width="83.75" height="27.0" fill="#dde3e6"/><rect x="128.75" y="626.5" width="83.75" height="27.0" fill="#dde3e6"/><rect x="212.5" y="626.5" width="40.0" height="27.0" fill="#dde3e6"/><rect x="252.5" y="626.5" width="40.0" height="27.0" fill="#dde3e6"/><rect x="376.8" y="626.5" width="37.69999999999999" height="27.0" fill="#dde3e6"/><rect x="414.5" y="626.5" width="37.700000000000045" height="27.0" fill="#dde3e6"/><rect x="452.20000000000005" y="626.5" width="37.69999999999999" height="27.0" fill="#dde3e6"/><rect x="489.90000000000003" y="626.5" width="37.69999999999999" height="27.0" fill="#dde3e6"/><rect x="527.6" y="626.5" width="37.69999999999993" height="27.0" fill="#dde3e6"/><rect x="565.3" y="626.5" width="37.700000000000045" height="27.0" fill="#dde3e6"/><rect x="603.0" y="626.5" width="37.700000000000045" height="27.0" fill="#dde3e6"/><rect x="640.7" y="626.5" width="37.700000000000045" height="27.0" fill="#dde3e6"/><rect x="678.4000000000001" y="626.5" width="37.69999999999993" height="27.0" fill="#dde3e6"/><rect x="716.1" y="626.5" width="37.69999999999993" height="27.0" fill="#dde3e6"/><rect x="45" y="680.3" width="83.75" height="26.0" fill="#dde3e6"/><rect x="128.75" y="680.3" width="83.75" height="26.0" fill="#dde3e6"/><rect x="212.5" y="680.3" width="40.0" height="26.0" fill="#dde3e6"/><rect x="252.5" y="680.3" width="40.0" height="26.0" fill="#dde3e6"/><rect x="376.8" y="680.3" width="37.69999999999999" height="26.0" fill="#dde3e6"/><rect x="414.5" y="680.3" width="37.700000000000045" height="26.0" fill="#dde3e6"/><rect x="452.20000000000005" y="680.3" width="37.69999999999999" height="26.0" fill="#dde3e6"/><rect x="489.90000000000003" y="680.3" width="37.69999999999999" height="26.0" fill="#dde3e6"/><rect x="527.6" y="680.3" width="37.69999999999993" height="26.0" fill="#dde3e6"/><rect x="565.3" y="680.3" width="37.700000000000045" height="26.0" fill="#dde3e6"/><rect x="603.0" y="680.3" width="37.700000000000045" height="26.0" fill="#dde3e6"/><rect x="640.7" y="680.3" width="37.700000000000045" height="26.0" fill="#dde3e6"/><rect x="678.4000000000001" y="680.3" width="37.69999999999993" height="26.0" fill="#dde3e6"/><rect x="716.1" y="680.3" width="37.69999999999993" height="26.0" fill="#dde3e6"/><line x1="45" y1="588.75" x2="754" y2="588.75" stroke="#a8a8a8" stroke-width="1.6"/><line x1="339" y1="607.6" x2="754" y2="607.6" stroke="#b3b3b3" stroke-width="1.2"/><line x1="45" y1="626.5" x2="754" y2="626.5" stroke="#a8a8a8" stroke-width="1.8"/><line x1="45" y1="653.5" x2="292.5" y2="653.5" stroke="#b3b3b3" stroke-width="1.2"/><line x1="377" y1="653.5" x2="754" y2="653.5" stroke="#b3b3b3" stroke-width="1.2"/><line x1="45" y1="680.3" x2="292.5" y2="680.3" stroke="#b3b3b3" stroke-width="1.2"/><line x1="377" y1="680.3" x2="754" y2="680.3" stroke="#b3b3b3" stroke-width="1.2"/><line x1="292.5" y1="680.3" x2="319.5" y2="680.3" stroke="#b3b3b3" stroke-width="1.2"/><line x1="45" y1="706.3" x2="754" y2="706.3" stroke="#a8a8a8" stroke-width="1.8"/><line x1="212.5" y1="588.75" x2="212.5" y2="706.3" stroke="#b3b3b3" stroke-width="1.2"/><line x1="319.5" y1="588.75" x2="319.5" y2="706.3" stroke="#b3b3b3" stroke-width="1.2"/><line x1="377" y1="588.75" x2="377" y2="706.3" stroke="#b3b3b3" stroke-width="1.2"/><line x1="128.75" y1="608.6" x2="128.75" y2="706.3" stroke="#b3b3b3" stroke-width="1.2"/><line x1="252.5" y1="608.6" x2="252.5" y2="706.3" stroke="#b3b3b3" stroke-width="1.2"/><line x1="292.5" y1="608.6" x2="292.5" y2="706.3" stroke="#b3b3b3" stroke-width="1.2"/><line x1="414.5" y1="588.75" x2="414.5" y2="706.3" stroke="#b3b3b3" stroke-width="1.2"/><line x1="452.20000000000005" y1="588.75" x2="452.20000000000005" y2="706.3" stroke="#b3b3b3" stroke-width="1.2"/><line x1="489.90000000000003" y1="588.75" x2="489.90000000000003" y2="706.3" stroke="#b3b3b3" stroke-width="1.2"/><line x1="527.6" y1="588.75" x2="527.6" y2="706.3" stroke="#b3b3b3" stroke-width="1.2"/><line x1="565.3" y1="588.75" x2="565.3" y2="706.3" stroke="#b3b3b3" stroke-width="1.2"/><line x1="603.0" y1="588.75" x2="603.0" y2="706.3" stroke="#b3b3b3" stroke-width="1.2"/><line x1="640.7" y1="588.75" x2="640.7" y2="706.3" stroke="#b3b3b3" stroke-width="1.2"/><line x1="678.4000000000001" y1="588.75" x2="678.4000000000001" y2="706.3" stroke="#b3b3b3" stroke-width="1.2"/><line x1="716.1" y1="588.75" x2="716.1" y2="706.3" stroke="#b3b3b3" stroke-width="1.2"/>
<text x="118.00" y="603.00" font-size="12" font-weight="bold" fill="#111" text-anchor="start" textLength="22" lengthAdjust="spacingAndGlyphs" >ТИП</text>
<text x="220.00" y="603.00" font-size="12" font-weight="bold" fill="#111" text-anchor="start" textLength="92.5" lengthAdjust="spacingAndGlyphs" >МОЩНОСТЬ (P2)</text>
<text x="49.50" y="622.00" font-size="12" font-weight="bold" fill="#111" text-anchor="start" textLength="75" lengthAdjust="spacingAndGlyphs" >Однофазный</text>
<text x="133.00" y="622.00" font-size="12" font-weight="bold" fill="#111" text-anchor="start" textLength="71.2" lengthAdjust="spacingAndGlyphs" >Трехфазный</text>
<text x="224.25" y="622.00" font-size="12" font-weight="bold" fill="#111" text-anchor="start" textLength="17" lengthAdjust="spacingAndGlyphs" >kW</text>
<text x="265.50" y="622.00" font-size="12" font-weight="bold" fill="#111" text-anchor="start" textLength="15" lengthAdjust="spacingAndGlyphs" >HP</text>
<path d="M302.5 621.3 L306.25 615 L310 621.3 Z" fill="#111"/>
<text x="324.70" y="612.30" font-size="12.5" font-weight="bold" fill="#111" text-anchor="start" textLength="8.6" lengthAdjust="spacingAndGlyphs" >Q</text>
<text x="340.50" y="602.70" font-size="10.5" fill="#111" text-anchor="start" textLength="21.5" lengthAdjust="spacingAndGlyphs" stroke="#111" stroke-width="0.25">m³/h</text>
<text x="340.50" y="621.00" font-size="10.5" fill="#111" text-anchor="start" textLength="23.2" lengthAdjust="spacingAndGlyphs" stroke="#111" stroke-width="0.25">l/min</text>
<text x="395.65" y="603.00" font-size="10.3" fill="#111" text-anchor="middle" textLength="5.33" lengthAdjust="spacingAndGlyphs" stroke="#111" stroke-width="0.25">0</text>
<text x="395.65" y="621.30" font-size="10.3" font-weight="bold" fill="#111" text-anchor="middle" textLength="5.56" lengthAdjust="spacingAndGlyphs" >0</text>
<text x="395.65" y="644.10" font-size="10.3" fill="#111" text-anchor="middle" textLength="10.65" lengthAdjust="spacingAndGlyphs" stroke="#111" stroke-width="0.25">35</text>
<text x="395.65" y="671.00" font-size="10.3" fill="#111" text-anchor="middle" textLength="10.65" lengthAdjust="spacingAndGlyphs" stroke="#111" stroke-width="0.25">37</text>
<text x="395.65" y="697.80" font-size="10.3" fill="#111" text-anchor="middle" textLength="10.65" lengthAdjust="spacingAndGlyphs" stroke="#111" stroke-width="0.25">48</text>
<text x="433.35" y="603.00" font-size="10.3" fill="#111" text-anchor="middle" textLength="13.31" lengthAdjust="spacingAndGlyphs" stroke="#111" stroke-width="0.25">0,3</text>
<text x="433.35" y="621.30" font-size="10.3" font-weight="bold" fill="#111" text-anchor="middle" textLength="5.56" lengthAdjust="spacingAndGlyphs" >5</text>
<text x="433.35" y="644.10" font-size="10.3" fill="#111" text-anchor="middle" textLength="10.65" lengthAdjust="spacingAndGlyphs" stroke="#111" stroke-width="0.25">32</text>
<text x="433.35" y="671.00" font-size="10.3" fill="#111" text-anchor="middle" textLength="10.65" lengthAdjust="spacingAndGlyphs" stroke="#111" stroke-width="0.25">34</text>
<text x="433.35" y="697.80" font-size="10.3" fill="#111" text-anchor="middle" textLength="10.65" lengthAdjust="spacingAndGlyphs" stroke="#111" stroke-width="0.25">43</text>
<text x="471.05" y="603.00" font-size="10.3" fill="#111" text-anchor="middle" textLength="13.31" lengthAdjust="spacingAndGlyphs" stroke="#111" stroke-width="0.25">0,6</text>
<text x="471.05" y="621.30" font-size="10.3" font-weight="bold" fill="#111" text-anchor="middle" textLength="11.11" lengthAdjust="spacingAndGlyphs" >10</text>
<text x="471.05" y="644.10" font-size="10.3" fill="#111" text-anchor="middle" textLength="18.64" lengthAdjust="spacingAndGlyphs" stroke="#111" stroke-width="0.25">28,5</text>
<text x="471.05" y="671.00" font-size="10.3" fill="#111" text-anchor="middle" textLength="18.64" lengthAdjust="spacingAndGlyphs" stroke="#111" stroke-width="0.25">30,5</text>
<text x="471.05" y="697.80" font-size="10.3" fill="#111" text-anchor="middle" textLength="10.65" lengthAdjust="spacingAndGlyphs" stroke="#111" stroke-width="0.25">39</text>
<text x="508.75" y="603.00" font-size="10.3" fill="#111" text-anchor="middle" textLength="13.31" lengthAdjust="spacingAndGlyphs" stroke="#111" stroke-width="0.25">1,2</text>
<text x="508.75" y="621.30" font-size="10.3" font-weight="bold" fill="#111" text-anchor="middle" textLength="11.11" lengthAdjust="spacingAndGlyphs" >20</text>
<text x="508.75" y="644.10" font-size="10.3" fill="#111" text-anchor="middle" textLength="18.64" lengthAdjust="spacingAndGlyphs" stroke="#111" stroke-width="0.25">23,5</text>
<text x="508.75" y="671.00" font-size="10.3" fill="#111" text-anchor="middle" textLength="18.64" lengthAdjust="spacingAndGlyphs" stroke="#111" stroke-width="0.25">25,5</text>
<text x="508.75" y="697.80" font-size="10.3" fill="#111" text-anchor="middle" textLength="18.64" lengthAdjust="spacingAndGlyphs" stroke="#111" stroke-width="0.25">31,5</text>
<text x="546.45" y="603.00" font-size="10.3" fill="#111" text-anchor="middle" textLength="13.31" lengthAdjust="spacingAndGlyphs" stroke="#111" stroke-width="0.25">1,5</text>
<text x="546.45" y="621.30" font-size="10.3" font-weight="bold" fill="#111" text-anchor="middle" textLength="11.11" lengthAdjust="spacingAndGlyphs" >25</text>
<text x="546.45" y="644.10" font-size="10.3" fill="#111" text-anchor="middle" textLength="10.65" lengthAdjust="spacingAndGlyphs" stroke="#111" stroke-width="0.25">21</text>
<text x="546.45" y="671.00" font-size="10.3" fill="#111" text-anchor="middle" textLength="10.65" lengthAdjust="spacingAndGlyphs" stroke="#111" stroke-width="0.25">23</text>
<text x="546.45" y="697.80" font-size="10.3" fill="#111" text-anchor="middle" textLength="18.64" lengthAdjust="spacingAndGlyphs" stroke="#111" stroke-width="0.25">28,5</text>
<text x="584.15" y="603.00" font-size="10.3" fill="#111" text-anchor="middle" textLength="13.31" lengthAdjust="spacingAndGlyphs" stroke="#111" stroke-width="0.25">1,8</text>
<text x="584.15" y="621.30" font-size="10.3" font-weight="bold" fill="#111" text-anchor="middle" textLength="11.11" lengthAdjust="spacingAndGlyphs" >30</text>
<text x="584.15" y="644.10" font-size="10.3" fill="#111" text-anchor="middle" textLength="18.64" lengthAdjust="spacingAndGlyphs" stroke="#111" stroke-width="0.25">18,5</text>
<text x="584.15" y="671.00" font-size="10.3" fill="#111" text-anchor="middle" textLength="18.64" lengthAdjust="spacingAndGlyphs" stroke="#111" stroke-width="0.25">20,5</text>
<text x="584.15" y="697.80" font-size="10.3" fill="#111" text-anchor="middle" textLength="10.65" lengthAdjust="spacingAndGlyphs" stroke="#111" stroke-width="0.25">26</text>
<text x="621.85" y="603.00" font-size="10.3" fill="#111" text-anchor="middle" textLength="13.31" lengthAdjust="spacingAndGlyphs" stroke="#111" stroke-width="0.25">2,4</text>
<text x="621.85" y="621.30" font-size="10.3" font-weight="bold" fill="#111" text-anchor="middle" textLength="11.11" lengthAdjust="spacingAndGlyphs" >40</text>
<text x="621.85" y="644.10" font-size="10.3" fill="#111" text-anchor="middle" textLength="10.65" lengthAdjust="spacingAndGlyphs" stroke="#111" stroke-width="0.25">15</text>
<text x="621.85" y="671.00" font-size="10.3" fill="#111" text-anchor="middle" textLength="10.65" lengthAdjust="spacingAndGlyphs" stroke="#111" stroke-width="0.25">17</text>
<text x="621.85" y="697.80" font-size="10.3" fill="#111" text-anchor="middle" textLength="10.65" lengthAdjust="spacingAndGlyphs" stroke="#111" stroke-width="0.25">22</text>
<text x="659.55" y="603.00" font-size="10.3" fill="#111" text-anchor="middle" textLength="13.31" lengthAdjust="spacingAndGlyphs" stroke="#111" stroke-width="0.25">2,7</text>
<text x="659.55" y="621.30" font-size="10.3" font-weight="bold" fill="#111" text-anchor="middle" textLength="11.11" lengthAdjust="spacingAndGlyphs" >45</text>
<text x="659.55" y="644.10" font-size="10.3" fill="#111" text-anchor="middle" textLength="18.64" lengthAdjust="spacingAndGlyphs" stroke="#111" stroke-width="0.25">13,5</text>
<text x="659.55" y="671.00" font-size="10.3" fill="#111" text-anchor="middle" textLength="18.64" lengthAdjust="spacingAndGlyphs" stroke="#111" stroke-width="0.25">15,5</text>
<text x="659.55" y="697.80" font-size="10.3" fill="#111" text-anchor="middle" textLength="18.64" lengthAdjust="spacingAndGlyphs" stroke="#111" stroke-width="0.25">20,5</text>
<text x="697.25" y="603.00" font-size="10.3" fill="#111" text-anchor="middle" textLength="13.31" lengthAdjust="spacingAndGlyphs" stroke="#111" stroke-width="0.25">3,0</text>
<text x="697.25" y="621.30" font-size="10.3" font-weight="bold" fill="#111" text-anchor="middle" textLength="11.11" lengthAdjust="spacingAndGlyphs" >50</text>
<text x="697.25" y="644.10" font-size="10.3" fill="#111" text-anchor="middle" textLength="10.65" lengthAdjust="spacingAndGlyphs" stroke="#111" stroke-width="0.25">12</text>
<text x="697.25" y="671.00" font-size="10.3" fill="#111" text-anchor="middle" textLength="10.65" lengthAdjust="spacingAndGlyphs" stroke="#111" stroke-width="0.25">14</text>
<text x="697.25" y="697.80" font-size="10.3" fill="#111" text-anchor="middle" textLength="10.65" lengthAdjust="spacingAndGlyphs" stroke="#111" stroke-width="0.25">19</text>
<text x="734.95" y="603.00" font-size="10.3" fill="#111" text-anchor="middle" textLength="13.31" lengthAdjust="spacingAndGlyphs" stroke="#111" stroke-width="0.25">3,6</text>
<text x="734.95" y="621.30" font-size="10.3" font-weight="bold" fill="#111" text-anchor="middle" textLength="11.11" lengthAdjust="spacingAndGlyphs" >60</text>
<text x="734.95" y="644.10" font-size="10.3" fill="#111" text-anchor="middle" textLength="10.65" lengthAdjust="spacingAndGlyphs" stroke="#111" stroke-width="0.25">10</text>
<text x="734.95" y="671.00" font-size="10.3" fill="#111" text-anchor="middle" textLength="10.65" lengthAdjust="spacingAndGlyphs" stroke="#111" stroke-width="0.25">12</text>
<text x="734.95" y="697.80" font-size="10.3" fill="#111" text-anchor="middle" textLength="10.65" lengthAdjust="spacingAndGlyphs" stroke="#111" stroke-width="0.25">17</text>
<text x="49.50" y="644.90" font-size="12" font-weight="bold" fill="#111" text-anchor="start" textLength="47" lengthAdjust="spacingAndGlyphs" >JCRm 1C</text>
<text x="133.00" y="644.90" font-size="12" font-weight="bold" fill="#111" text-anchor="start" textLength="35.25" lengthAdjust="spacingAndGlyphs" >JCR 1C</text>
<text x="49.50" y="671.90" font-size="12" font-weight="bold" fill="#111" text-anchor="start" textLength="47" lengthAdjust="spacingAndGlyphs" >JCRm 1B</text>
<text x="133.00" y="671.90" font-size="12" font-weight="bold" fill="#111" text-anchor="start" textLength="35.25" lengthAdjust="spacingAndGlyphs" >JCR 1B</text>
<text x="49.50" y="698.70" font-size="12" font-weight="bold" fill="#111" text-anchor="start" textLength="47.5" lengthAdjust="spacingAndGlyphs" >JCRm 1A</text>
<text x="133.00" y="698.70" font-size="12" font-weight="bold" fill="#111" text-anchor="start" textLength="36.25" lengthAdjust="spacingAndGlyphs" >JCR 1A</text>
<text x="232.80" y="644.90" font-size="11" fill="#111" text-anchor="middle" textLength="19.27" lengthAdjust="spacingAndGlyphs" stroke="#111" stroke-width="0.25">0,37</text>
<text x="272.80" y="644.90" font-size="11" fill="#111" text-anchor="middle" textLength="19.27" lengthAdjust="spacingAndGlyphs" stroke="#111" stroke-width="0.25">0,50</text>
<text x="232.80" y="671.90" font-size="11" fill="#111" text-anchor="middle" textLength="19.27" lengthAdjust="spacingAndGlyphs" stroke="#111" stroke-width="0.25">0,48</text>
<text x="272.80" y="671.90" font-size="11" fill="#111" text-anchor="middle" textLength="19.27" lengthAdjust="spacingAndGlyphs" stroke="#111" stroke-width="0.25">0,65</text>
<text x="232.80" y="698.70" font-size="11" fill="#111" text-anchor="middle" textLength="19.27" lengthAdjust="spacingAndGlyphs" stroke="#111" stroke-width="0.25">0,55</text>
<text x="272.80" y="698.70" font-size="11" fill="#111" text-anchor="middle" textLength="19.27" lengthAdjust="spacingAndGlyphs" stroke="#111" stroke-width="0.25">0,75</text>
<text x="296.25" y="658.20" font-size="12" font-weight="bold" fill="#111" text-anchor="start" textLength="17.5" lengthAdjust="spacingAndGlyphs" >IE2</text>
<text x="296.25" y="698.40" font-size="12" font-weight="bold" fill="#111" text-anchor="start" textLength="17.5" lengthAdjust="spacingAndGlyphs" >IE3</text>
<text x="325.50" y="672.00" font-size="12" font-weight="bold" fill="#111" text-anchor="start" textLength="7.5" lengthAdjust="spacingAndGlyphs" >H</text>
<text x="340.75" y="672.00" font-size="11" fill="#111" text-anchor="start" textLength="30.5" lengthAdjust="spacingAndGlyphs" stroke="#111" stroke-width="0.25">метры</text>
<text x="45.50" y="722.50" font-size="9.2" font-weight="bold" fill="#111" text-anchor="start" textLength="6.25" lengthAdjust="spacingAndGlyphs" >Q</text>
<text x="53.50" y="722.50" font-size="9.2" fill="#111" text-anchor="start" textLength="2.6" lengthAdjust="spacingAndGlyphs" stroke="#111" stroke-width="0.2">-</text>
<text x="57.50" y="722.50" font-size="9.2" fill="#111" text-anchor="start" textLength="88.75" lengthAdjust="spacingAndGlyphs" stroke="#111" stroke-width="0.2">Производительность</text>
<text x="154.50" y="722.50" font-size="9.2" font-weight="bold" fill="#111" text-anchor="start" textLength="5.5" lengthAdjust="spacingAndGlyphs" >H</text>
<text x="162.50" y="722.50" font-size="9.2" fill="#111" text-anchor="start" textLength="140.2" lengthAdjust="spacingAndGlyphs" stroke="#111" stroke-width="0.2">- Общий манометрический напор</text>
<text x="308.75" y="722.50" font-size="9.2" font-weight="bold" fill="#111" text-anchor="start" textLength="11.85" lengthAdjust="spacingAndGlyphs" >HS</text>
<text x="322.50" y="722.50" font-size="9.2" fill="#111" text-anchor="start" textLength="85.8" lengthAdjust="spacingAndGlyphs" stroke="#111" stroke-width="0.2">- Высота всасывания</text>
<text x="45.50" y="733.80" font-size="9.2" fill="#111" text-anchor="start" textLength="396.5" lengthAdjust="spacingAndGlyphs" stroke="#111" stroke-width="0.2">Допустимое отклонение характеристик насосов соответствует классу 3B согласно EN ISO 9906.</text>
<path d="M46.9 755 L50.65 748.75 L54.4 755 Z" fill="#111"/>
<text x="61.90" y="755.00" font-size="9.2" fill="#111" text-anchor="start" textLength="257" lengthAdjust="spacingAndGlyphs" stroke="#111" stroke-width="0.2">Класс эффективности трехфазного двигателя (IEC 60034-30-1)</text>
<g><circle cx="335.9" cy="129.1" r="7.5" fill="#79b6da" fill-opacity="0.5" stroke="#6aaed6" stroke-opacity="0.6" stroke-width="0.8"/><ellipse cx="335.9" cy="126.72999999999999" rx="3.95" ry="3.792" fill="#fff" fill-opacity="0.8"/><circle cx="325.5" cy="148.75" r="6.8999999999999995" fill="#79b6da" fill-opacity="0.5" stroke="#6aaed6" stroke-opacity="0.6" stroke-width="0.8"/><ellipse cx="325.5" cy="146.56" rx="3.65" ry="3.504" fill="#fff" fill-opacity="0.8"/><circle cx="332.3" cy="169.6" r="5.199999999999999" fill="#79b6da" fill-opacity="0.5" stroke="#6aaed6" stroke-opacity="0.6" stroke-width="0.8"/><ellipse cx="332.3" cy="167.92" rx="2.8" ry="2.6879999999999997" fill="#fff" fill-opacity="0.8"/><circle cx="348.25" cy="175.75" r="4.3" fill="#79b6da" fill-opacity="0.5" stroke="#6aaed6" stroke-opacity="0.6" stroke-width="0.8"/><ellipse cx="348.25" cy="174.34" rx="2.35" ry="2.256" fill="#fff" fill-opacity="0.8"/><circle cx="362" cy="172.4" r="3.2" fill="#79b6da" fill-opacity="0.5" stroke="#6aaed6" stroke-opacity="0.6" stroke-width="0.8"/><ellipse cx="362" cy="171.32" rx="1.8" ry="1.728" fill="#fff" fill-opacity="0.8"/><path d="M339.8 159 L347 143.5 L354.2 159 M360.5 143.5 L360.5 159 M376.5 143.5 L364 151.3 L376.5 159 M360.5 151.3 L364 151.3 M382 143.5 L395.5 143.5 Q398.5 143.5 398.5 146.5 L398.5 156 Q398.5 159 395.5 159 L382 159 Z M382 151.3 L398.5 151.3 M401.5 159 L409.7 143.5 L418 159 M422.5 143.5 L436 143.5 Q439 143.5 439 146.5 L439 156 Q439 159 436 159 L422.5 159 Z M422.5 151.3 L439 151.3 M444.2 143.5 L444.2 159 M449 143.5 L449 159 M449 151.3 L465.8 151.3 M465.8 143.5 L465.8 159" stroke="#8a8a8a" stroke-opacity="0.9" stroke-width="2.6" fill="none" stroke-linejoin="round"/><path d="M339.8 159 L347 143.5 L354.2 159 M360.5 143.5 L360.5 159 M376.5 143.5 L364 151.3 L376.5 159 M360.5 151.3 L364 151.3 M382 143.5 L395.5 143.5 Q398.5 143.5 398.5 146.5 L398.5 156 Q398.5 159 395.5 159 L382 159 Z M382 151.3 L398.5 151.3 M401.5 159 L409.7 143.5 L418 159 M422.5 143.5 L436 143.5 Q439 143.5 439 146.5 L439 156 Q439 159 436 159 L422.5 159 Z M422.5 151.3 L439 151.3 M444.2 143.5 L444.2 159 M449 143.5 L449 159 M449 151.3 L465.8 151.3 M465.8 143.5 L465.8 159" stroke="#fff" stroke-opacity="0.55" stroke-width="0.8" fill="none" stroke-linejoin="round"/><circle cx="347" cy="155.3" r="1.1" fill="#8a8a8a"/><circle cx="409.7" cy="155.3" r="1.1" fill="#8a8a8a"/></g>
<g><rect x="617.1" y="123.1" width="107.8" height="106.6" fill="#fff" stroke="#000" stroke-width="1.8"/><g transform="translate(612,118) scale(0.15)"><defs><linearGradient id="bodyg" x1="0" y1="0" x2="1" y2="1"><stop offset="0" stop-color="#cfd4d8"/><stop offset="0.45" stop-color="#e6e9ec"/><stop offset="1" stop-color="#ccd1d5"/></linearGradient><linearGradient id="inl" x1="0" y1="0" x2="1" y2="0"><stop offset="0" stop-color="#fff" stop-opacity="0.2"/><stop offset="0.4" stop-color="#8ccbea"/><stop offset="1" stop-color="#1b8ccd"/></linearGradient><linearGradient id="bot" x1="1" y1="0" x2="0" y2="0"><stop offset="0" stop-color="#e9f5fb"/><stop offset="0.6" stop-color="#5fb3de"/><stop offset="1" stop-color="#1b8ccd"/></linearGradient><linearGradient id="wing" x1="1" y1="0" x2="0" y2="0"><stop offset="0" stop-color="#2393d0"/><stop offset="1" stop-color="#d9eef8"/></linearGradient><linearGradient id="mid" x1="0" y1="0" x2="1" y2="0"><stop offset="0" stop-color="#d9eef8"/><stop offset="1" stop-color="#2a8fc6"/></linearGradient></defs><path d="M160 168 L185 168 L185 158 L215 158 L215 165 L320 165 L320 148 L430 148 L430 78 L545 78 L545 148 L690 148 L690 78 L712 78 L712 720 L690 720 L690 650 L330 648 L160 625 Z" fill="url(#bodyg)" stroke="#a3a6a9" stroke-width="9" stroke-linejoin="miter"/><rect x="85" y="195" width="78" height="20" fill="#c7cacd"/><rect x="85" y="285" width="78" height="20" fill="#c7cacd"/><rect x="85" y="215" width="78" height="70" fill="#fff"/><path d="M360 200 C400 160 470 160 545 160 L600 180 C600 240 600 290 570 315 C545 330 540 365 505 368 L380 368 C345 368 320 365 315 345 C310 310 355 300 360 260 Z" fill="#eff2f4"/><path d="M330 425 L510 425 C530 430 525 470 560 485 C595 500 600 560 605 615 L330 640 L250 600 L262 480 C275 500 310 495 330 490 Z" fill="#eff2f4"/><rect x="598" y="180" width="55" height="190" fill="#f6dde6"/><rect x="598" y="420" width="55" height="190" fill="#f6dde6"/><path d="M617 180 L617 370 M650 180 L650 370 M617 420 L617 610 M650 420 L650 610 M575 335 L620 335 M575 460 L620 460" stroke="#b02d55" stroke-width="10" fill="none"/><path d="M165 205 L280 203 C330 185 365 215 360 258 C355 300 310 310 315 345 C320 365 345 368 380 368 L505 368 C540 365 545 330 570 315 C600 290 600 240 605 190" stroke="#141414" stroke-width="15" fill="none" stroke-linejoin="round" stroke-linecap="butt"/><path d="M165 300 L245 300 C265 302 262 330 265 350 C270 378 290 385 300 388" stroke="#141414" stroke-width="15" fill="none" stroke-linejoin="round" stroke-linecap="butt"/><path d="M300 420 C260 425 250 455 262 480 C275 500 310 495 330 490 L330 425 L510 425 C532 430 525 470 560 485 C595 500 600 560 605 615" stroke="#141414" stroke-width="15" fill="none" stroke-linejoin="round" stroke-linecap="butt"/><path d="M110 225 L265 225 C305 225 322 265 305 305 L285 335 L268 300 C280 296 282 290 265 290 L110 290 Z" fill="url(#inl)"/><path d="M290 380 L375 388 L372 375 L402 395 L372 412 L375 400 L290 398 Z" fill="url(#mid)"/><path d="M614 335 C595 372 545 392 476 397 C545 400 592 392 614 380 Z" fill="url(#wing)"/><path d="M614 458 C592 420 545 404 476 400 C545 410 590 425 614 415 Z" fill="url(#wing)"/><path d="M184 476 C176 428 205 396 245 390 L243 372 L286 405 L245 432 L246 418 C224 424 214 445 216 476 Z" fill="#2a96d2"/><path d="M540 630 C440 612 355 585 305 560 L296 592 L258 530 L330 508 L316 536 C372 560 455 583 540 596 Z" fill="url(#bot)"/><path d="M545 178 C498 178 462 162 455 125 L440 128 L485 88 L515 132 L492 130 C500 148 518 152 545 150 Z" fill="#2a95d0"/></g></g>
</svg>
</body></html>
